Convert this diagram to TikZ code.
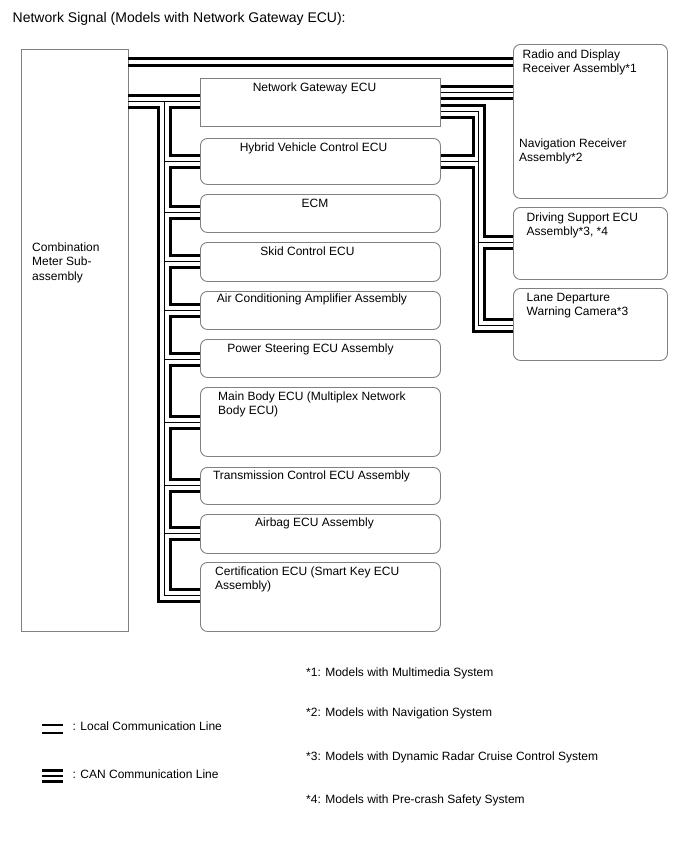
\documentclass[tikz,border=0pt]{standalone}
\usepackage{fontspec}
\setmainfont{Liberation Sans}
\begin{document}
\begin{tikzpicture}[x=1pt,y=-1pt,
  box/.style={draw=black!50, line width=0.9pt, rounded corners=7pt, inner sep=0pt, anchor=north west},
  sqbox/.style={box, rounded corners=0pt},
  thk/.style={line width=3pt},
  thn/.style={line width=1pt},
  loc/.style={line width=2.2pt},
  lbl/.style={inner sep=0pt, font=\fontsize{12}{14.5}\selectfont, align=left},
]
\useasboundingbox (0,0) rectangle (688,852);

% boxes
\node[sqbox, minimum width=107pt, minimum height=582pt] (cm) at (20.5,48.5) {};
\node[sqbox, minimum width=240pt, minimum height=48pt] (gw) at (200,78) {};
\node[box, minimum width=240pt, minimum height=46pt] (hy) at (200,138) {};
\node[box, minimum width=240pt, minimum height=38pt] (ecm) at (200,194) {};
\node[box, minimum width=240pt, minimum height=39pt] (skid) at (200,242) {};
\node[box, minimum width=240pt, minimum height=38pt] (air) at (200,291) {};
\node[box, minimum width=240pt, minimum height=38pt] (ps) at (200,339) {};
\node[box, minimum width=240pt, minimum height=69pt] (mb) at (200,387) {};
\node[box, minimum width=240pt, minimum height=37pt] (tr) at (200,467) {};
\node[box, minimum width=240pt, minimum height=39pt] (ab) at (200,514) {};
\node[box, minimum width=240pt, minimum height=69pt] (ct) at (200,562) {};
\node[box, minimum width=154pt, minimum height=154pt] (rad) at (513,44) {};
\node[box, minimum width=154pt, minimum height=72pt] (drv) at (513,207) {};
\node[box, minimum width=154pt, minimum height=72pt] (lane) at (513,288) {};

% trunk x positions
\coordinate (xL) at (158.5,0);
\coordinate (xT) at (164.5,0);
\coordinate (xR) at (170.5,0);
\coordinate (xA) at (473,0);
\coordinate (xB) at (478.5,0);
\coordinate (xC) at (484,0);

% local line
\draw[loc] (cm.east|-0,58.5) -- (rad.west|-0,58.5);
\draw[loc] (cm.east|-0,65.5) -- (rad.west|-0,65.5);

% CAN left side
\draw[thk] (cm.east|-0,95) -- (gw.west|-0,95);
\draw[thn] (cm.east|-0,101) -- (gw.west|-0,101);
\draw[thk] (cm.east|-0,107) -- (xL|-0,107) -- (xL|-0,601) -- (ct.west|-0,601);
\draw[thn] (xT|-0,101) -- (xT|-0,595) -- (ct.west|-0,595);
\foreach \b/\yb in {hy/161, ecm/212, skid/261, air/310, ps/359, mb/422, tr/485, ab/533}
  \draw[thn] (xT|-0,\yb) -- (\b.west|-0,\yb);
\foreach \a/\ya/\b/\yb in {gw/101/hy/161, hy/161/ecm/212, ecm/212/skid/261, skid/261/air/310,
    air/310/ps/359, ps/359/mb/422, mb/422/tr/485, tr/485/ab/533, ab/533/ct/595}
  \draw[thk] (\a.west|-0,\ya+6) -- (xR|-0,\ya+6) -- (xR|-0,\yb-6) -- (\b.west|-0,\yb-6);

% CAN right side
\draw[thk] (gw.east|-0,86.5) -- (rad.west|-0,86.5);
\draw[thn] (gw.east|-0,92.5) -- (rad.west|-0,92.5);
\draw[thk] (gw.east|-0,98.5) -- (rad.west|-0,98.5);
\draw[thk] (gw.east|-0,105) -- (xC|-0,105) -- (xC|-0,236.5) -- (drv.west|-0,236.5);
\draw[thn] (gw.east|-0,111) -- (xB|-0,111) -- (xB|-0,325) -- (lane.west|-0,325);
\draw[thk] (gw.east|-0,117) -- (xA|-0,117) -- (xA|-0,155) -- (hy.east|-0,155);
\draw[thn] (hy.east|-0,161) -- (xB|-0,161);
\draw[thk] (hy.east|-0,167) -- (xA|-0,167) -- (xA|-0,331) -- (lane.west|-0,331);
\draw[thn] (xB|-0,242.5) -- (drv.west|-0,242.5);
\draw[thk] (drv.west|-0,248.5) -- (xC|-0,248.5) -- (xC|-0,319) -- (lane.west|-0,319);

% labels
\node[lbl, anchor=north west, font=\fontsize{14}{16}\selectfont] (title) at (12.5,12.5) {Network Signal (Models with Network Gateway ECU):};
\node[lbl, anchor=north west] (cmt) at (32,242.5) {Combination\\Meter Sub-\\assembly};
\node[lbl, anchor=north] (gwt) at (314.5,82.5) {Network Gateway ECU};
\node[lbl, anchor=north] (hyt) at (313.5,142.5) {Hybrid Vehicle Control ECU};
\node[lbl, anchor=north] (ecmt) at (315,198.5) {ECM};
\node[lbl, anchor=north] (skidt) at (307.5,246.5) {Skid Control ECU};
\node[lbl, anchor=north] (airt) at (312,293.5) {Air Conditioning Amplifier Assembly};
\node[lbl, anchor=north] (pst) at (310.5,343.5) {Power Steering ECU Assembly};
\node[lbl, anchor=north west] (mbt) at (218,391.5) {Main Body ECU (Multiplex Network\\Body ECU)};
\node[lbl, anchor=north] (trt) at (311.5,470.5) {Transmission Control ECU Assembly};
\node[lbl, anchor=north] (abt) at (314.5,517.5) {Airbag ECU Assembly};
\node[lbl, anchor=north west] (ctt) at (215,566.5) {Certification ECU (Smart Key ECU\\Assembly)};
\node[lbl, anchor=north west] (radt) at (522.5,49.5) {Radio and Display\\Receiver Assembly*1};
\node[lbl, anchor=north west] (navt) at (519,138.5) {Navigation Receiver\\Assembly*2};
\node[lbl, anchor=north west] (drvt) at (526.5,212.5) {Driving Support ECU\\Assembly*3, *4};
\node[lbl, anchor=north west] (lanet) at (526.5,293) {Lane Departure\\Warning Camera*3};

% footnotes
\node[lbl, anchor=north west] (n1) at (306,668) {*1: Models with Multimedia System};
\node[lbl, anchor=north west] (n2) at (306,707.5) {*2: Models with Navigation System};
\node[lbl, anchor=north west] (n3) at (306,751.5) {*3: Models with Dynamic Radar Cruise Control System};
\node[lbl, anchor=north west] (n4) at (306,794.5) {*4: Models with Pre-crash Safety System};

% legend
\coordinate (l1a) at (42,725);
\coordinate (l1b) at (63,725);
\draw[loc, line width=2.6pt] (l1a) -- (l1b);
\draw[loc, line width=2.6pt] ([yshift=-8pt]l1a) -- ([yshift=-8pt]l1b);
\coordinate (l2a) at (42,770.5);
\coordinate (l2b) at (63,770.5);
\draw[thk] (l2a) -- (l2b);
\draw[line width=2.5pt] ([yshift=-5.5pt]l2a) -- ([yshift=-5.5pt]l2b);
\draw[thk] ([yshift=-11pt]l2a) -- ([yshift=-11pt]l2b);
\node[lbl, anchor=north west] (lg1) at (72.5,721.5) {: Local Communication Line};
\node[lbl, anchor=north west] (lg2) at (72.5,770) {: CAN Communication Line};
\end{tikzpicture}
\end{document}
